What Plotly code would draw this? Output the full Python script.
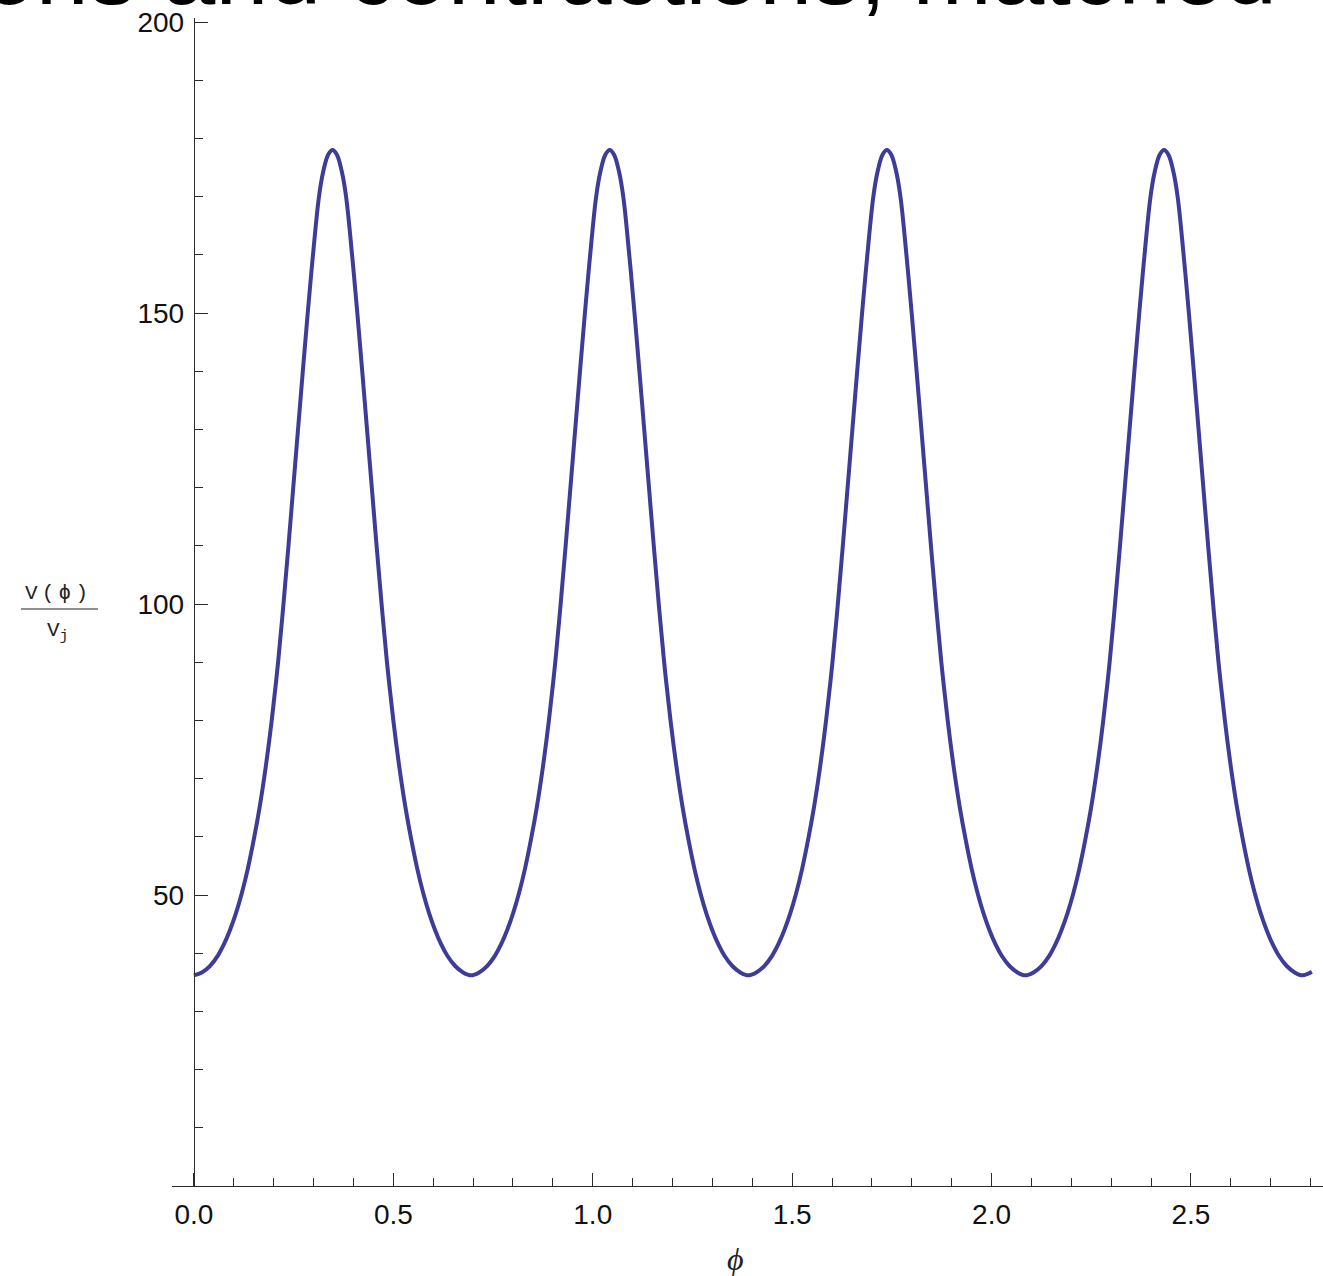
import plotly.graph_objects as go

# ---- data ----
phi = [0.000, 0.020, 0.040, 0.060, 0.075, 0.090, 0.105, 0.120, 0.135, 0.150, 0.165, 0.180, 0.195, 0.211, 0.2245,
       0.237, 0.249, 0.261, 0.273, 0.2853, 0.2985, 0.3135, 0.3245, 0.3365, 0.3475,
       0.3585, 0.3705, 0.3815, 0.3965, 0.4097, 0.422, 0.434, 0.446, 0.458, 0.4705, 0.484, 0.500,
       0.515, 0.530, 0.545, 0.560, 0.575, 0.590, 0.605, 0.620, 0.635, 0.655, 0.675, 0.695,
       0.715, 0.735, 0.755, 0.770, 0.785, 0.800, 0.815, 0.830, 0.845, 0.860, 0.875, 0.890,
       0.906, 0.9195, 0.932, 0.944, 0.956, 0.968, 0.9803, 0.9935, 1.0085, 1.0195, 1.0315, 1.0425,
       1.0535, 1.0655, 1.0765, 1.0915, 1.1047, 1.117, 1.129, 1.141, 1.153, 1.1655, 1.179, 1.195,
       1.210, 1.225, 1.240, 1.255, 1.270, 1.285, 1.300, 1.315, 1.330, 1.350, 1.370, 1.390,
       1.410, 1.430, 1.450, 1.465, 1.480, 1.495, 1.510, 1.525, 1.540, 1.555, 1.570, 1.585,
       1.601, 1.6145, 1.627, 1.639, 1.651, 1.663, 1.6753, 1.6885, 1.7035, 1.7145, 1.7265, 1.7375,
       1.7485, 1.7605, 1.7715, 1.7865, 1.7997, 1.812, 1.824, 1.836, 1.848, 1.8605, 1.874, 1.890,
       1.905, 1.920, 1.935, 1.950, 1.965, 1.980, 1.995, 2.010, 2.025, 2.045, 2.065, 2.085,
       2.105, 2.125, 2.145, 2.160, 2.175, 2.190, 2.205, 2.220, 2.235, 2.250, 2.265, 2.280,
       2.296, 2.3095, 2.322, 2.334, 2.346, 2.358, 2.3703, 2.3835, 2.3985, 2.4095, 2.4215, 2.4325,
       2.4435, 2.4555, 2.4665, 2.4815, 2.4947, 2.507, 2.519, 2.531, 2.543, 2.5555, 2.569, 2.585,
       2.600, 2.615, 2.630, 2.645, 2.660, 2.675, 2.690, 2.705, 2.720, 2.740, 2.760, 2.780,
       2.803]

v_ratio = [36.2, 36.7, 37.8, 39.6, 41.5, 43.9, 46.8, 50.3, 54.5, 59.5, 65.2, 72.0, 80, 90, 100,
           110, 120, 130, 140, 150, 160, 170, 174.4, 177.2, 178,
           177.2, 174.4, 170, 160, 150, 140, 130, 120, 110, 100, 90, 80,
           72.0, 65.2, 59.5, 54.5, 50.3, 46.8, 43.9, 41.5, 39.6, 37.8, 36.7, 36.2,
           36.7, 37.8, 39.6, 41.5, 43.9, 46.8, 50.3, 54.5, 59.5, 65.2, 72.0, 80,
           90, 100, 110, 120, 130, 140, 150, 160, 170, 174.4, 177.2, 178,
           177.2, 174.4, 170, 160, 150, 140, 130, 120, 110, 100, 90, 80,
           72.0, 65.2, 59.5, 54.5, 50.3, 46.8, 43.9, 41.5, 39.6, 37.8, 36.7, 36.2,
           36.7, 37.8, 39.6, 41.5, 43.9, 46.8, 50.3, 54.5, 59.5, 65.2, 72.0, 80,
           90, 100, 110, 120, 130, 140, 150, 160, 170, 174.4, 177.2, 178,
           177.2, 174.4, 170, 160, 150, 140, 130, 120, 110, 100, 90, 80,
           72.0, 65.2, 59.5, 54.5, 50.3, 46.8, 43.9, 41.5, 39.6, 37.8, 36.7, 36.2,
           36.7, 37.8, 39.6, 41.5, 43.9, 46.8, 50.3, 54.5, 59.5, 65.2, 72.0, 80,
           90, 100, 110, 120, 130, 140, 150, 160, 170, 174.4, 177.2, 178,
           177.2, 174.4, 170, 160, 150, 140, 130, 120, 110, 100, 90, 80,
           72.0, 65.2, 59.5, 54.5, 50.3, 46.8, 43.9, 41.5, 39.6, 37.8, 36.7, 36.2,
           36.8]

assert len(phi) == len(v_ratio)

x_ticks = [0.0, 0.5, 1.0, 1.5, 2.0, 2.5]
x_tick_text = ["0.0", "0.5", "1.0", "1.5", "2.0", "2.5"]
y_ticks = [50, 100, 150, 200]
y_tick_text = ["50", "100", "150", "200"]

title_text = "ons and contractions, matched"

# ---- layout geometry ----
W, H = 1323, 1276
L, R, T, B = 172, 0, 18, 90
pw = W - L - R
ph = H - T - B


def px_x(px):
    return (px - L) / pw


def px_y(py):
    return (H - B - py) / ph


AX = "#2b2b2b"
fig = go.Figure()
fig.add_trace(go.Scatter(
    x=phi, y=v_ratio, mode="lines",
    line=dict(color="#3d3d99", width=4, shape="spline", smoothing=1.0),
    hoverinfo="skip", showlegend=False,
))

tickfont = dict(family="Liberation Sans, Arial, sans-serif", size=28, color="#111111")

fig.update_layout(
    width=W, height=H,
    margin=dict(l=L, r=R, t=T, b=B, pad=0),
    paper_bgcolor="white", plot_bgcolor="white",
    showlegend=False,
    xaxis=dict(
        range=[-0.055, 2.831], showgrid=False, zeroline=False,
        showline=True, linecolor=AX, linewidth=1.4,
        ticks="inside", ticklen=13, tickwidth=1.3, tickcolor=AX,
        tickvals=x_ticks, ticktext=x_tick_text, tickfont=tickfont,
        ticklabelstandoff=3,
        minor=dict(dtick=0.1, tick0=0, ticks="inside", ticklen=8, tickwidth=1.2, tickcolor=AX),
    ),
    yaxis=dict(
        range=[0, 200.7], showgrid=False, zeroline=False,
        anchor="free", position=px_x(194),
        showline=True, linecolor=AX, linewidth=1.4,
        ticks="inside", ticklen=13, tickwidth=1.3, tickcolor=AX,
        tickvals=y_ticks, ticktext=y_tick_text, tickfont=tickfont,
        ticklabelstandoff=4,
        minor=dict(dtick=10, tick0=0, ticks="inside", ticklen=8, tickwidth=1.2, tickcolor=AX),
    ),
)

mono = "Liberation Mono, Courier New, monospace"
annotations = [
    dict(text=title_text, xref="paper", yref="paper", x=px_x(1279), y=px_y(26),
         xanchor="right", yanchor="bottom", showarrow=False,
         font=dict(family="Liberation Sans, Arial, sans-serif", size=95, color="#000000")),
    dict(text="V\u2009(\u2009ϕ\u2009)", xref="paper", yref="paper",
         x=px_x(56), y=px_y(593), xanchor="center", yanchor="middle", showarrow=False,
         font=dict(family=mono, size=21, color="#222222")),
    dict(text="V<sub>j</sub>", xref="paper", yref="paper",
         x=px_x(57), y=px_y(632), xanchor="center", yanchor="middle", showarrow=False,
         font=dict(family=mono, size=21, color="#222222")),
    dict(text="<i>ϕ</i>", xref="paper", yref="paper",
         x=px_x(735), y=px_y(1259), xanchor="center", yanchor="middle", showarrow=False,
         font=dict(family="Liberation Serif, Times New Roman, serif", size=32, color="#222222")),
]
fig.update_layout(annotations=annotations)
fig.add_shape(type="line", xref="paper", yref="paper",
              x0=px_x(21), x1=px_x(98), y0=px_y(609), y1=px_y(609),
              line=dict(color="#222222", width=1.2))

fig.write_html(
    "out.html",
    config={"displayModeBar": False},
    post_script="document.body.style.margin='0';document.body.style.padding='0';"
                "document.body.style.overflow='hidden';",
)
